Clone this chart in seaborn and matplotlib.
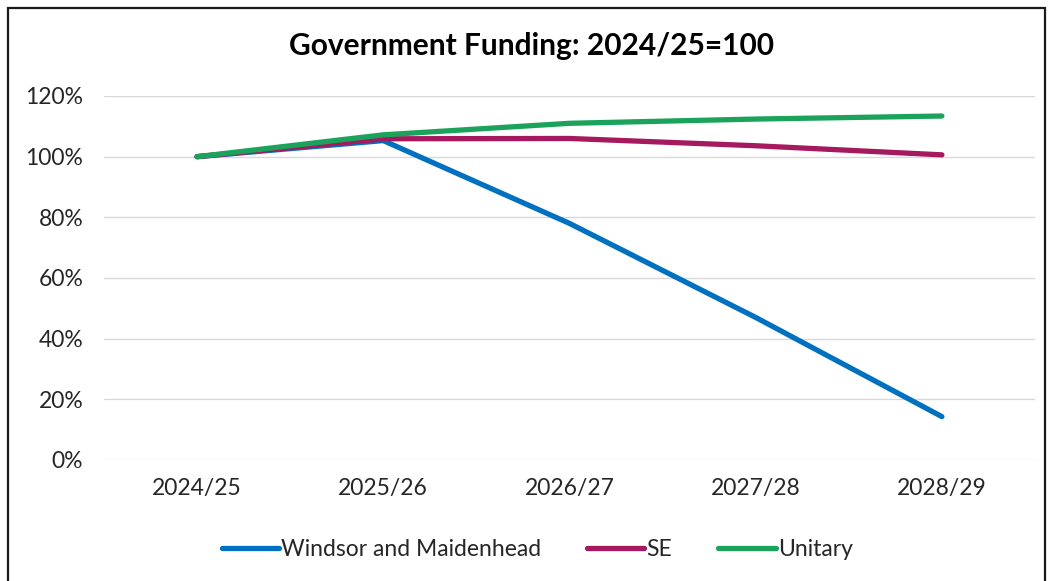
import matplotlib
matplotlib.use("Agg")
import matplotlib.pyplot as plt
from matplotlib.patches import Rectangle
from matplotlib.ticker import FuncFormatter
import pandas as pd
import seaborn as sns

years = ["2024/25", "2025/26", "2026/27", "2027/28", "2028/29"]
windsor = [100, 105.3, 78, 47, 14.3]
south_east = [100, 105.9, 106, 103.6, 100.6]
unitary = [100, 107.2, 111, 112.4, 113.4]

series_names = ["Windsor and Maidenhead", "SE", "Unitary"]
colors = ["#0070C0", "#A5195F", "#1BA35B"]

df = pd.DataFrame({
    "year": years * 3,
    "value": windsor + south_east + unitary,
    "series": [series_names[0]] * 5 + [series_names[1]] * 5 + [series_names[2]] * 5,
})

sns.set_theme(style="white")
plt.rcParams["font.family"] = ["Lato", "DejaVu Sans"]

fig = plt.figure(figsize=(10.49, 5.81), dpi=100)
ax = fig.add_axes([104 / 1049, 1 - 460 / 581, (1035 - 104) / 1049, (460 - 96) / 581])

sns.lineplot(data=df, x="year", y="value", hue="series", hue_order=series_names,
             palette=colors, linewidth=3.8, ax=ax, sort=False,
             solid_capstyle="round", legend=False)

ax.set_xlim(-0.5, 4.5)
ax.set_ylim(0, 120)
ax.set_yticks(range(0, 121, 20))
ax.yaxis.set_major_formatter(FuncFormatter(lambda v, _: f"{int(v)}%"))
ax.grid(axis="y", color="#D9D9D9", linewidth=1.0)
ax.set_axisbelow(True)
for s in ax.spines.values():
    s.set_visible(False)
ax.tick_params(axis="both", length=0, labelsize=16.5, colors="#262626")
ax.tick_params(axis="y", pad=15)
ax.tick_params(axis="x", pad=13)
ax.set_xlabel("")
ax.set_ylabel("")

fig.text(0.507, 1 - 46 / 581, "Government Funding: 2024/25=100", ha="center", va="center",
         fontsize=21.5, fontweight="bold", color="#000000")

handles = [plt.Line2D([0], [0], color=c, linewidth=3.8, solid_capstyle="round") for c in colors]
fig.legend(handles, series_names, loc="center", bbox_to_anchor=(0.512, 1 - 550 / 581),
           ncol=3, frameon=False, fontsize=16.5, handlelength=2.5, handletextpad=0.1,
           columnspacing=2.0)

fig.patches.append(Rectangle((8 / 1049, -0.05), (1045 - 8) / 1049, 1.05 - 8 / 581,
                             transform=fig.transFigure, fill=False,
                             edgecolor="#1a1a1a", linewidth=1.6))

fig.savefig("out.png", dpi=100, facecolor="white")
